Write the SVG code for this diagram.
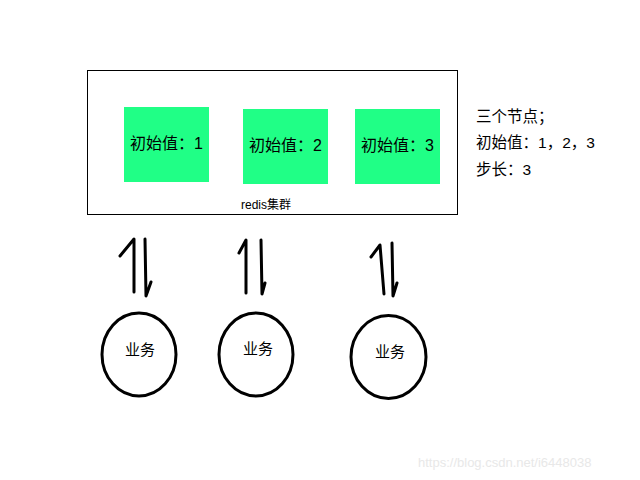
<svg xmlns="http://www.w3.org/2000/svg" width="640" height="480" viewBox="0 0 640 480">
<style>
text{font-family:"Noto Sans CJK SC",sans-serif;fill:#000}
.d{font-family:"Liberation Sans",Arial,sans-serif}
.node{fill:#20FF86;stroke:none}
.lbl{font-size:16px;text-anchor:middle}
.circ{fill:#fff;stroke:#000;stroke-width:3}
.ar{fill:none;stroke:#000;stroke-width:3;stroke-linecap:round;stroke-linejoin:round}
.note{font-size:15.5px}
</style>
<rect width="640" height="480" fill="#fff"/>
<g id="cluster">
<rect x="87.5" y="70.5" width="370" height="144" fill="none" stroke="#000" stroke-width="1"/>
<text x="266" y="209" font-size="12" text-anchor="middle"><tspan class="d">redis</tspan>集群</text>
</g>
<g id="node1"><rect class="node" x="124" y="107" width="85" height="75"/><text class="lbl" x="166.5" y="149">初始值：<tspan class="d">1</tspan></text></g>
<g id="node2"><rect class="node" x="243" y="109" width="85" height="75"/><text class="lbl" x="285.5" y="151">初始值：<tspan class="d">2</tspan></text></g>
<g id="node3"><rect class="node" x="355" y="109" width="85" height="75"/><text class="lbl" x="397.5" y="151">初始值：<tspan class="d">3</tspan></text></g>
<g id="biz1"><ellipse class="circ" cx="139" cy="354.5" rx="37" ry="41.5"/><text x="140" y="355" font-size="15" text-anchor="middle">业务</text></g>
<g id="biz2"><ellipse class="circ" cx="256" cy="354.5" rx="37" ry="41.5"/><text x="258" y="354" font-size="15" text-anchor="middle">业务</text></g>
<g id="biz3"><ellipse class="circ" cx="388.5" cy="357" rx="37.5" ry="41.5"/><text x="390" y="357" font-size="15" text-anchor="middle">业务</text></g>
<g id="connectors">
<path class="ar" d="M134 292 L134 239 L120 256"/>
<path class="ar" d="M145 239 L146 296 L151 282"/>
<path class="ar" d="M246 293 L246 240 L239 253"/>
<path class="ar" d="M261 240 L262 294 L265 283"/>
<path class="ar" d="M384 294 L380 245 L371 257"/>
<path class="ar" d="M392 243 L393 296 L397 283"/>
</g>
<g id="notes">
<text class="note" x="476" y="122">三个节点；</text>
<text class="note" x="476" y="148">初始值：<tspan class="d">1</tspan>，<tspan class="d">2</tspan>，<tspan class="d">3</tspan></text>
<text class="note" x="476" y="175">步长：<tspan class="d">3</tspan></text>
</g>
<text x="418" y="467" font-size="13" style="fill:#e8e8e8" class="d">https://blog.csdn.net/i6448038</text>
</svg>
